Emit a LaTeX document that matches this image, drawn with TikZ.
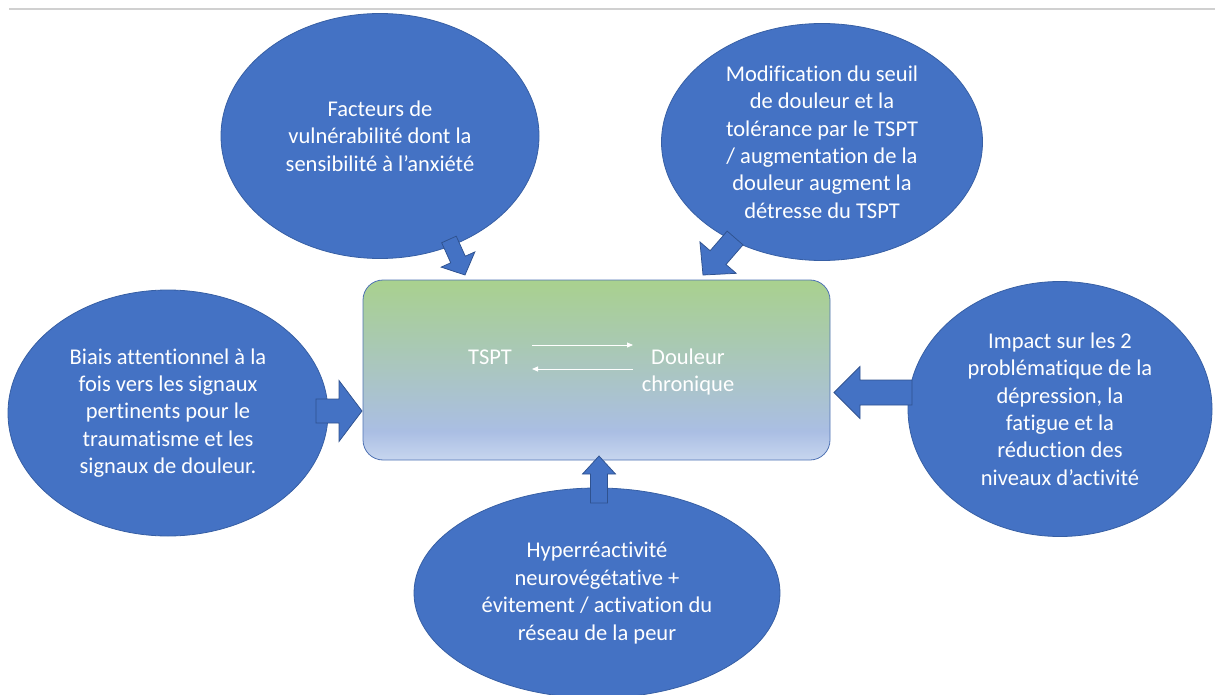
\documentclass[tikz,border=0pt]{standalone}
\usepackage{fontspec}
\setmainfont{Carlito}[Ligatures={NoCommon,NoRequired,NoContextual}]
\usetikzlibrary{shapes.geometric,arrows.meta}
\definecolor{bblue}{HTML}{4472C4}
\definecolor{bline}{HTML}{2F528F}
\definecolor{gtop}{HTML}{A9D18E}
\definecolor{gblue}{HTML}{AABEE3}
\definecolor{glow}{HTML}{C7D6EF}
\definecolor{boxline}{RGB}{80,115,180}
\definecolor{rule}{HTML}{D0D0D0}
\pgfdeclareverticalshading{boxshade}{100bp}{color(0bp)=(glow); color(25bp)=(glow); color(33bp)=(gblue); color(75bp)=(gtop); color(100bp)=(gtop)}
\newcommand{\blockarr}[6]{%
  \draw[blockarrow, shift={(#1)}, rotate=#2] (0,0) -- (-#6,#5) -- (-#6,#4) -- (-#3,#4) -- (-#3,-#4) -- (-#6,-#4) -- (-#6,-#5) -- cycle;}
\tikzset{
  bubble/.style={ellipse, fill=bblue, draw=bline!60!bblue, line width=0.8pt, text=white, align=center, inner sep=0pt, font=\fontsize{22.5}{27.4}\selectfont},
  blockarrow/.style={fill=bblue, draw=bline, line width=0.75pt, line join=miter},
  core/.style={rectangle, rounded corners=20pt, draw=boxline, line width=0.8pt, shading=boxshade, minimum width=467pt, minimum height=180pt, inner sep=0pt},
  coretext/.style={text=white, align=center, inner sep=0pt, font=\fontsize{22.5}{27.4}\selectfont},
  wline/.style={white, line width=0.9pt, -{Triangle[length=6pt,width=5pt]}}
}
\begin{document}
\begin{tikzpicture}[x=1pt,y=-1pt]
\useasboundingbox (0,0) rectangle (1215,695);
\draw[rule, line width=1.5pt] (9,9) -- (1215,9);

\node[bubble, minimum width=318pt, minimum height=245pt] (e1) at (380,136) {Facteurs de\\vulnérabilité dont la\\sensibilité à l’anxiété};
\node[bubble, minimum width=321pt, minimum height=237pt] (e2) at (822,142) {Modification du seuil\\de douleur et la\\tolérance par le TSPT\\/ augmentation de la\\douleur augment la\\détresse du TSPT};
\node[bubble, minimum width=320pt, minimum height=246pt] (e3) at (168,413) {Biais attentionnel à la\\fois vers les signaux\\pertinents pour le\\traumatisme et les\\signaux de douleur.};
\node[bubble, minimum width=304pt, minimum height=255pt] (e4) at (1060,409) {Impact sur les 2\\problématique de la\\dépression, la\\fatigue et la\\réduction des\\niveaux d’activité};
\node[bubble, minimum width=366pt, minimum height=210pt] (e5) at (597,593) {Hyperréactivité\\neurovégétative +\\évitement / activation du\\réseau de la peur};

\node[core] (box) at (596.5,370) {};

\coordinate (t1) at (465,275);
\coordinate (t2) at (703,275);
\coordinate (t3) at (362,411);
\coordinate (t4) at (834,392.5);
\coordinate (t5) at (599,456);
\blockarr{t1}{-65.7}{39}{8}{18.5}{17}
\blockarr{t2}{-130.9}{49}{10.5}{24}{23}
\blockarr{t3}{0}{46}{12}{30.5}{23}
\blockarr{t4}{180}{78}{12.5}{26}{26}
\blockarr{t5}{90}{47}{8.5}{16.5}{18}

\node[coretext, anchor=base] (tspt) at (490,364.5) {TSPT};
\node[coretext] (dc) at (688,372) {Douleur\\chronique};
\coordinate (r1s) at (532,345);
\coordinate (r1e) at (633,345);
\coordinate (r2s) at (633,369);
\coordinate (r2e) at (532,369);
\draw[wline] (r1s) -- (r1e);
\draw[wline] (r2s) -- (r2e);
\end{tikzpicture}
\end{document}
